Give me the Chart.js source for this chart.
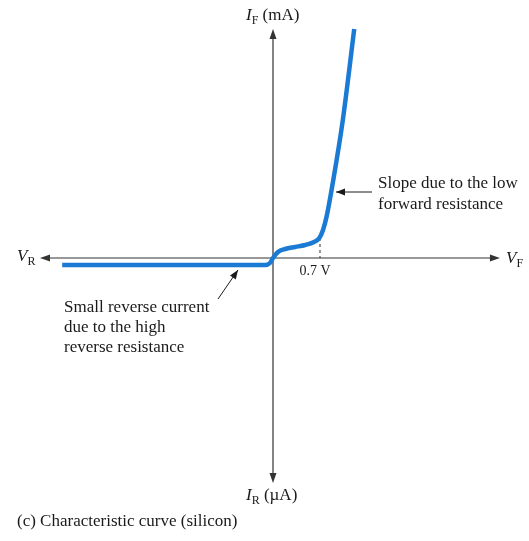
<!DOCTYPE html>
<html>
<head>
<meta charset="utf-8">
<script src="https://cdn.jsdelivr.net/npm/chart.js@4"></script>
<style>
  html, body { margin: 0; padding: 0; background: #fff; }
  #wrap { width: 529px; height: 541px; }
</style>
</head>
<body>
<div id="wrap"><canvas id="diode" width="529" height="541"></canvas></div>
<script>
// Silicon diode characteristic (V in volts, I in arbitrary mA / uA units)
const curveV = [-3.14, -0.12, -0.045, 0.0, 0.074, 0.18, 0.33, 0.48, 0.61, 0.69, 0.745, 0.80, 0.89, 1.04, 1.21];
const curveI = [-0.7, -0.7, -0.5, 0.0, 0.6, 0.9, 1.1, 1.3, 1.6, 2.0, 2.8, 4.2, 7.5, 13.8, 22.9];

// axis extents in data units
const axisX = [-3.47, 3.38];
const axisY = [-22.5, 22.9];

// the marked knee voltage
const kneeV = 0.7;
const kneeI = 2.0;
const kneeLabel = '0.7 V';

const captionText = '(c) Characteristic curve (silicon)';
const slopeNote = ['Slope due to the low', 'forward resistance'];
const reverseNote = ['Small reverse current', 'due to the high', 'reverse resistance'];

const points = curveV.map((v, i) => ({ x: v, y: curveI[i] }));

const serif = '"Liberation Serif", "DejaVu Serif", serif';
const ink = '#1a1a1a';

function arrowHead(ctx, x, y, angle, len, half) {
    ctx.save();
    ctx.translate(x, y);
    ctx.rotate(angle);
    ctx.beginPath();
    ctx.moveTo(0, 0);
    ctx.lineTo(-len, -half);
    ctx.lineTo(-len, half);
    ctx.closePath();
    ctx.fill();
    ctx.restore();
}

function arrow(ctx, x1, y1, x2, y2, len, half) {
    ctx.beginPath();
    ctx.moveTo(x1, y1);
    ctx.lineTo(x2, y2);
    ctx.stroke();
    arrowHead(ctx, x2, y2, Math.atan2(y2 - y1, x2 - x1), len, half);
}

// italic letter + upright subscript + optional rest
function subLabel(ctx, x, y, main, sub, rest) {
    ctx.textAlign = 'left';
    ctx.textBaseline = 'alphabetic';
    ctx.font = 'italic 17px ' + serif;
    ctx.fillText(main, x, y);
    let cx = x + ctx.measureText(main).width;
    ctx.font = '12px ' + serif;
    ctx.fillText(sub, cx, y + 4);
    cx += ctx.measureText(sub).width;
    if (rest) {
        ctx.font = '17px ' + serif;
        ctx.fillText(' ' + rest, cx, y);
    }
}

const background = {
    id: 'background',
    beforeDraw(chart) {
        const ctx = chart.ctx;
        ctx.save();
        ctx.fillStyle = '#fff';
        ctx.fillRect(0, 0, chart.width, chart.height);
        ctx.restore();
    }
};

const axesAndNotes = {
    id: 'axesAndNotes',
    beforeDatasetsDraw(chart) {
        const ctx = chart.ctx;
        const xs = chart.scales.x;
        const ys = chart.scales.y;
        const x0 = xs.getPixelForValue(0);
        const y0 = ys.getPixelForValue(0);

        ctx.save();
        ctx.strokeStyle = '#333';
        ctx.fillStyle = '#333';
        ctx.lineWidth = 1.2;

        // horizontal axis, arrows both ends
        const left = xs.getPixelForValue(axisX[0]);
        const right = xs.getPixelForValue(axisX[1]);
        ctx.beginPath();
        ctx.moveTo(left + 4, y0);
        ctx.lineTo(right - 4, y0);
        ctx.stroke();
        arrowHead(ctx, left, y0, Math.PI, 10, 3.5);
        arrowHead(ctx, right, y0, 0, 10, 3.5);

        // vertical axis
        const top = ys.getPixelForValue(axisY[1]);
        const bottom = ys.getPixelForValue(axisY[0]);
        ctx.beginPath();
        ctx.moveTo(x0, top + 4);
        ctx.lineTo(x0, bottom - 4);
        ctx.stroke();
        arrowHead(ctx, x0, top, -Math.PI / 2, 10, 3.5);
        arrowHead(ctx, x0, bottom, Math.PI / 2, 10, 3.5);

        // knee marker
        const kx = xs.getPixelForValue(kneeV);
        ctx.setLineDash([3, 3]);
        ctx.lineWidth = 1;
        ctx.beginPath();
        ctx.moveTo(kx, ys.getPixelForValue(kneeI));
        ctx.lineTo(kx, y0);
        ctx.stroke();
        ctx.setLineDash([]);
        ctx.restore();
    },
    afterDatasetsDraw(chart) {
        const ctx = chart.ctx;
        const xs = chart.scales.x;
        const ys = chart.scales.y;
        const x0 = xs.getPixelForValue(0);
        const y0 = ys.getPixelForValue(0);

        ctx.save();
        ctx.fillStyle = ink;
        ctx.strokeStyle = ink;

        // axis titles
        subLabel(ctx, x0 - 27, 20, 'I', 'F', '(mA)');
        subLabel(ctx, x0 - 27, 500, 'I', 'R', '(\u00b5A)');
        subLabel(ctx, 17, y0 + 3, 'V', 'R');
        subLabel(ctx, 506, y0 + 5, 'V', 'F');

        // knee label
        ctx.font = '14px ' + serif;
        ctx.textAlign = 'center';
        ctx.textBaseline = 'alphabetic';
        ctx.fillText(kneeLabel, xs.getPixelForValue(kneeV) - 5, y0 + 17);

        // annotations
        ctx.font = '17px ' + serif;
        ctx.textAlign = 'left';
        slopeNote.forEach((t, i) => ctx.fillText(t, 378, 188 + i * 21));
        reverseNote.forEach((t, i) => ctx.fillText(t, 64, 312 + i * 20));

        ctx.lineWidth = 1;
        arrow(ctx, 372, 192, 336, 192, 9, 3.5);
        arrow(ctx, 218, 299, 238, 270, 9, 3.5);

        // caption
        ctx.font = '17px ' + serif;
        ctx.fillText(captionText, 17, 526);
        ctx.restore();
    }
};

const ctx = document.getElementById('diode');
new Chart(ctx, {
    type: 'scatter',
    data: {
        datasets: [{
            label: 'I-V',
            data: points,
            showLine: true,
            borderColor: '#1a7ad4',
            borderWidth: 4.5,
            pointRadius: 0,
            cubicInterpolationMode: 'monotone',
            borderCapStyle: 'butt',
            borderJoinStyle: 'round'
        }]
    },
    options: {
        responsive: false,
        animation: false,
        layout: { padding: 0 },
        plugins: {
            legend: { display: false },
            tooltip: { enabled: false }
        },
        scales: {
            x: { type: 'linear', display: false, min: -273 / 67.14, max: 256 / 67.14 },
            y: { type: 'linear', display: false, min: -28.3, max: 25.8 }
        }
    },
    plugins: [background, axesAndNotes]
});
</script>
</body>
</html>
